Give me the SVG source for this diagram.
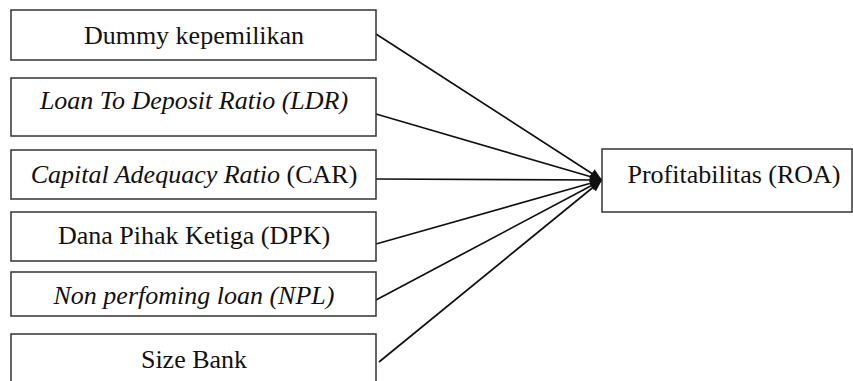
<svg xmlns="http://www.w3.org/2000/svg" width="853" height="381" viewBox="0 0 853 381">
<style>
.box{fill:#fff;stroke:#333;stroke-width:1.5}
.t{font-family:"Liberation Serif","Times New Roman",serif;font-size:26px;fill:#111;text-anchor:middle}
.i{font-style:italic}
.c{stroke:#111;stroke-width:1.7;fill:none;marker-end:url(#ah)}
</style>
<defs>
<marker id="ah" markerWidth="12" markerHeight="10" refX="12" refY="5" orient="auto" markerUnits="userSpaceOnUse">
<path d="M0,0 L12,5 L0,10 Z" fill="#111"/>
</marker>
</defs>
<g id="connectors">
<line class="c" x1="376" y1="34" x2="602" y2="180"/>
<line class="c" x1="376" y1="114" x2="602" y2="180"/>
<line class="c" x1="376" y1="179" x2="602" y2="180"/>
<line class="c" x1="376" y1="244" x2="602" y2="180"/>
<line class="c" x1="376" y1="300" x2="602" y2="180"/>
<line class="c" x1="379" y1="362" x2="602" y2="180"/>
</g>
<g id="n1"><rect class="box" x="11" y="10" width="365" height="50"/><text class="t" x="194" y="44">Dummy kepemilikan</text></g>
<g id="n2"><rect class="box" x="11" y="78" width="365" height="58"/><text class="t i" x="194" y="109">Loan To Deposit Ratio (LDR)</text></g>
<g id="n3"><rect class="box" x="11" y="150" width="365" height="49"/><text class="t" x="194" y="183"><tspan class="i">Capital Adequacy Ratio</tspan> (CAR)</text></g>
<g id="n4"><rect class="box" x="11" y="212" width="365" height="49"/><text class="t" x="194" y="244">Dana Pihak Ketiga (DPK)</text></g>
<g id="n5"><rect class="box" x="11" y="272" width="365" height="44"/><text class="t i" x="194" y="304">Non perfoming loan (NPL)</text></g>
<g id="n6"><rect class="box" x="11" y="334" width="365" height="60"/><text class="t" x="194" y="368">Size Bank</text></g>
<g id="roa"><rect class="box" x="602" y="149" width="250" height="63"/><text class="t" x="734" y="183">Profitabilitas (ROA)</text></g>
</svg>
